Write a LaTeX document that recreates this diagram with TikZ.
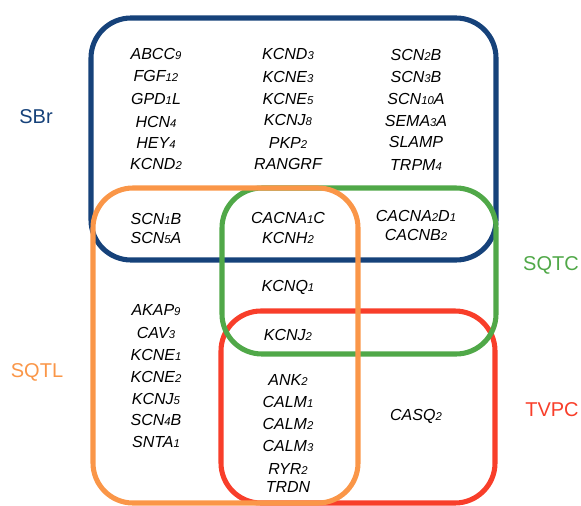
\documentclass[tikz,border=0pt]{standalone}
\usepackage{fontspec}
\setmainfont{Liberation Sans}
\newcommand\dg[1]{{\fontsize{8.5}{10}\selectfont #1}}
\definecolor{cBlue}{RGB}{22,66,122}
\definecolor{cOrange}{RGB}{250,150,72}
\definecolor{cGreen}{RGB}{80,168,72}
\definecolor{cRed}{RGB}{248,62,42}
\tikzset{
  setbox/.style={line width=3.8pt, rounded corners=30pt},
  gene/.style={font=\fontsize{12}{14}\selectfont\itshape, inner sep=0pt, text=black},
  setlabel/.style={font=\fontsize{15}{17}\selectfont, inner sep=0pt},
}
\begin{document}
\begin{tikzpicture}[x=0.75pt,y=-0.75pt]
\useasboundingbox (0,0) rectangle (581,506);
% sets
\draw[setbox, cBlue] (91,18) rectangle (496,260);
\draw[setbox, cRed] (221,311) rectangle (495,503);
\draw[setbox, cGreen] (222,188) rectangle (496,354);
\draw[setbox, cOrange] (93,188) rectangle (358,503);
% set labels
\node[setlabel, text=cBlue] (sbr) at (36,117) {SBr};
\node[setlabel, text=cGreen] (sqtc) at (551,265) {SQTC};
\node[setlabel, text=cOrange] (sqtl) at (37,372) {SQTL};
\node[setlabel, text=cRed] (tvpc) at (552,410) {TVPC};
% column 1 (SBr only)
\node[gene] (abcc9) at (156,54) {ABCC\dg{9}};
\node[gene] (fgf12) at (156,76) {FGF\dg{12}};
\node[gene] (gpd1l) at (156,99) {GPD\dg{1}L};
\node[gene] (hcn4) at (156,122) {HCN\dg{4}};
\node[gene] (hey4) at (156,143) {HEY\dg{4}};
\node[gene] (kcnd2) at (156,164) {KCND\dg{2}};
% column 2
\node[gene] (kcnd3) at (288,54) {KCND\dg{3}};
\node[gene] (kcne3) at (288,77) {KCNE\dg{3}};
\node[gene] (kcne5) at (288,99) {KCNE\dg{5}};
\node[gene] (kcnj8) at (288,120) {KCNJ\dg{8}};
\node[gene] (pkp2) at (288,143) {PKP\dg{2}};
\node[gene] (rangrf) at (288,164) {RANGRF};
% column 3
\node[gene] (scn2b) at (416,55) {SCN\dg{2}B};
\node[gene] (scn3b) at (416,77) {SCN\dg{3}B};
\node[gene] (scn10a) at (416,99) {SCN\dg{10}A};
\node[gene] (sema3a) at (416,121) {SEMA\dg{3}A};
\node[gene] (slamp) at (416,142) {SLAMP};
\node[gene] (trpm4) at (416,165) {TRPM\dg{4}};
% overlaps
\node[gene] (scn1b) at (156,219) {SCN\dg{1}B};
\node[gene] (scn5a) at (156,238) {SCN\dg{5}A};
\node[gene] (cacna1c) at (288,218) {CACNA\dg{1}C};
\node[gene] (kcnh2) at (288,238) {KCNH\dg{2}};
\node[gene] (cacna2d1) at (416,216) {CACNA\dg{2}D\dg{1}};
\node[gene] (cacnb2) at (416,235) {CACNB\dg{2}};
\node[gene] (kcnq1) at (288,287) {KCNQ\dg{1}};
\node[gene] (kcnj2) at (288,335) {KCNJ\dg{2}};
% SQTL only
\node[gene] (akap9) at (156,310) {AKAP\dg{9}};
\node[gene] (cav3) at (156,333) {CAV\dg{3}};
\node[gene] (kcne1) at (156,355) {KCNE\dg{1}};
\node[gene] (kcne2) at (156,377) {KCNE\dg{2}};
\node[gene] (kcnj5) at (156,399) {KCNJ\dg{5}};
\node[gene] (scn4b) at (156,420) {SCN\dg{4}B};
\node[gene] (snta1) at (156,442) {SNTA\dg{1}};
% SQTL & TVPC
\node[gene] (ank2) at (288,380) {ANK\dg{2}};
\node[gene] (calm1) at (288,402) {CALM\dg{1}};
\node[gene] (calm2) at (288,424) {CALM\dg{2}};
\node[gene] (calm3) at (288,446) {CALM\dg{3}};
\node[gene] (ryr2) at (288,469) {RYR\dg{2}};
\node[gene] (trdn) at (288,487) {TRDN};
% TVPC only
\node[gene] (casq2) at (416,416) {CASQ\dg{2}};
\end{tikzpicture}
\end{document}
